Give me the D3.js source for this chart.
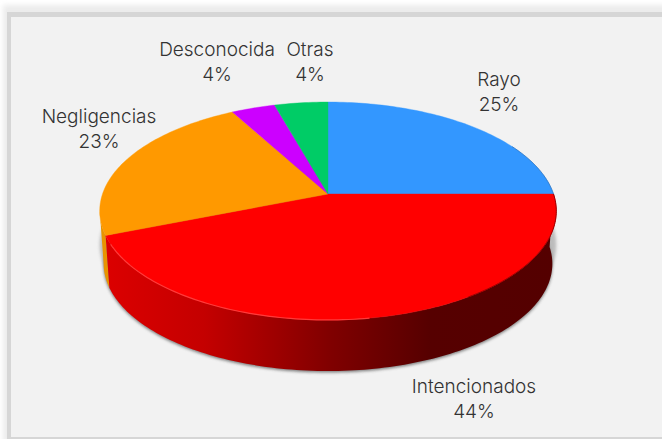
<!DOCTYPE html>
<html>
<head>
<meta charset="utf-8">
<script src="https://cdn.jsdelivr.net/npm/d3@7"></script>
<style>
  html, body { margin: 0; padding: 0; background: #fff; }
  svg { display: block; }
  text { font-family: Inter, sans-serif; font-size: 19px; font-weight: 300; fill: #333; text-anchor: middle; }
</style>
</head>
<body>
<div id="chart"></div>
<script>
var categories = ["Rayo", "Intencionados", "Negligencias", "Desconocida", "Otras"];
var values = [25, 44, 23, 3.6, 4.4];
var colors = ["#3397ff", "#ff0000", "#ff9900", "#cc00ff", "#00cc66"];

var width = 662, height = 439;

// pie plane -> screen, the reference has a real perspective so the centre sits above the middle of the ellipse
var top3d = { cx: 328, cy: 194, r: 225.5, k: 106.3, p: 0.156 };
var bottom3d = { cx: 328, cy: 247, r: 221.6, k: 104.7, p: 0.156 };

// centre of each label, line 1
var labelPos = {
  "Rayo": [499, 86],
  "Intencionados": [474, 393],
  "Negligencias": [99, 123],
  "Desconocida": [217, 56],
  "Otras": [310, 56]
};

function project (s, a) {
  var X = Math.sin(a), Y = -Math.cos(a), w = 1 - s.p * Y;
  return [s.cx + s.r * X / w, s.cy + s.k * Y / w];
}

function samples (a0, a1) {
  var n = Math.max(2, Math.ceil((a1 - a0) / 0.02));
  return d3.range(n + 1).map(function (i) { return a0 + (a1 - a0) * i / n; });
}

var pie = d3.pie().sort(null).value(function (d) { return d.value; });
var data = categories.map(function (c, i) { return { name: c, value: values[i], color: colors[i] }; });
var arcs = pie(data);
var total = d3.sum(values);
var line = d3.line();
var pct = d3.format(".0f");

function slicePath (d) {
  var pts = samples(d.startAngle, d.endAngle).map(function (a) { return project(top3d, a); });
  return line([[top3d.cx, top3d.cy]].concat(pts)) + "Z";
}

// wall between the top and bottom rim for the front part of a slice
function wallPath (a0, a1) {
  var up = samples(a0, a1).map(function (a) { return project(top3d, a); });
  var down = samples(a0, a1).reverse().map(function (a) { return project(bottom3d, a); });
  return line(up.concat(down)) + "Z";
}

function rim (a0, a1) {
  return line(samples(a0, a1).map(function (a) { return project(top3d, a); }));
}

var svg = d3.select("#chart").append("svg")
  .attr("width", width)
  .attr("height", height);

var defs = svg.append("defs");
[["wide", 2.6], ["soft", 0.7], ["shadow", 1.6]].forEach(function (f) {
  defs.append("filter").attr("id", f[0]).attr("x", "-5%").attr("y", "-5%").attr("width", "110%").attr("height", "110%")
    .append("feGaussianBlur").attr("stdDeviation", f[1]);
});

var wallGrad = defs.append("linearGradient").attr("id", "wallRed")
  .attr("gradientUnits", "userSpaceOnUse")
  .attr("x1", 105).attr("x2", 556).attr("y1", 0).attr("y2", 0);
[[0, "#dc0000"], [0.22, "#c40000"], [0.5, "#800000"], [0.72, "#560000"], [1, "#540000"]].forEach(function (s) {
  wallGrad.append("stop").attr("offset", s[0]).attr("stop-color", s[1]);
});

// frame
svg.append("rect").attr("width", width).attr("height", height).attr("fill", "#fff");
svg.append("rect")
  .attr("x", 3).attr("y", 5).attr("width", width + 20).attr("height", height)
  .attr("fill", "#ececec").attr("filter", "url(#wide)");
svg.append("rect")
  .attr("x", 7).attr("y", 12).attr("width", width + 20).attr("height", height)
  .attr("fill", "#d6d6d6").attr("filter", "url(#soft)");
svg.append("rect")
  .attr("x", 11).attr("y", 17).attr("width", width).attr("height", 420)
  .attr("fill", "#f2f2f2");

// drop shadow under the whole pie
var outline = samples(0, 2 * Math.PI);
svg.append("path")
  .attr("d", line(outline.map(function (a) { return project(bottom3d, a); })) + "Z")
  .attr("transform", "translate(0,1.5)")
  .attr("fill", "#555").attr("opacity", 0.75).attr("filter", "url(#shadow)");
svg.append("path")
  .attr("d", line(outline.map(function (a) { return project(top3d, a); })) + "Z")
  .attr("transform", "translate(0,34)")
  .attr("fill", "#888").attr("opacity", 0.5).attr("filter", "url(#shadow)");

// walls, the orange one only shows up to the left tangent of the rim
var leftTangent = 1.5 * Math.PI - 0.156;
svg.append("path")
  .attr("d", wallPath(arcs[2].startAngle, leftTangent))
  .attr("fill", "#e89400");
svg.append("path")
  .attr("d", wallPath(arcs[1].startAngle, arcs[1].endAngle))
  .attr("fill", "url(#wallRed)");

// top face
svg.selectAll("path.slice")
  .data(arcs)
  .enter().append("path")
  .attr("class", "slice")
  .attr("d", slicePath)
  .attr("fill", function (d) { return d.data.color; })
  .attr("stroke", function (d) { return d.data.color; })
  .attr("stroke-width", 0.4);

// light rim on the lit side of the red face, dark on the other
svg.append("path")
  .attr("d", rim(arcs[1].endAngle - 1.35, arcs[1].endAngle - 0.08))
  .attr("fill", "none").attr("stroke", "#ff3a3a").attr("stroke-width", 1.2);
svg.append("path")
  .attr("d", rim(arcs[1].startAngle, arcs[1].startAngle + 1))
  .attr("fill", "none").attr("stroke", "#a00000").attr("stroke-width", 1);
svg.append("path")
  .attr("d", rim(arcs[0].endAngle - 0.5, arcs[0].endAngle))
  .attr("fill", "none").attr("stroke", "#1d5fa8").attr("stroke-width", 0.8).attr("opacity", 0.7);

// labels
var labels = svg.selectAll("g.label")
  .data(arcs)
  .enter().append("g")
  .attr("class", "label")
  .attr("transform", function (d) { return "translate(" + labelPos[d.data.name] + ")"; });
labels.append("text").text(function (d) { return d.data.name; });
labels.append("text").attr("y", 24.5).text(function (d) { return pct(d.data.value / total * 100) + "%"; });
</script>
</body>
</html>
